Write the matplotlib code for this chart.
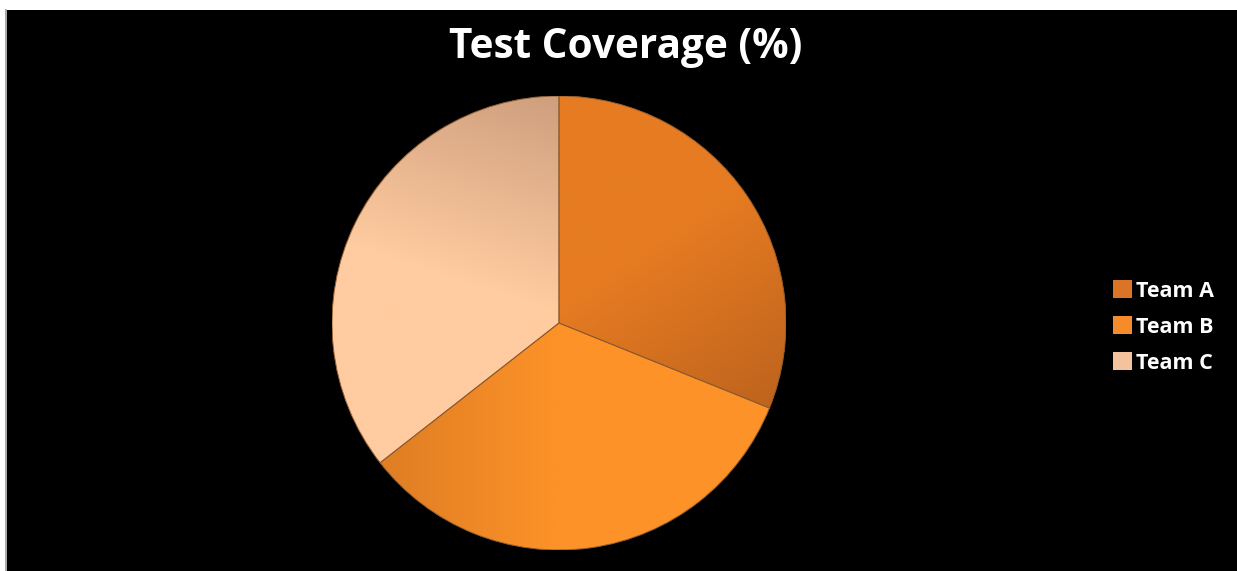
import numpy as np
import matplotlib
matplotlib.use("Agg")
import matplotlib.pyplot as plt
from matplotlib.colors import LinearSegmentedColormap
from matplotlib.patches import Patch, Rectangle, Wedge

teams = ["Team A", "Team B", "Team C"]
coverage = [70, 75, 80]

# base colour for each slice and the legend swatches
base_colors = ["#E57B22", "#FB9228", "#FECBA0"]
legend_colors = ["#DC7428", "#F58B2A", "#F5C29E"]

W, H = 1237, 571
fig = plt.figure(figsize=(W / 100, H / 100), dpi=100, facecolor="white")

# black panel with a thin grey rule down the left side
fig.patches.append(Rectangle((7 / W, 0), 1 - 7 / W, 1 - 10 / H,
                             transform=fig.transFigure, facecolor="black",
                             edgecolor="none", zorder=-1))
fig.lines.append(plt.Line2D([5.5 / W, 5.5 / W], [0, 1 - 10 / H],
                            transform=fig.transFigure, color="#9a9a9a",
                            linewidth=1.2, zorder=-1))

cx, cy, r = 559, 323, 227
ax = fig.add_axes([(cx - r) / W, 1 - (cy + r) / H, 2 * r / W, 2 * r / H])
ax.set_zorder(1)
ax.set_facecolor("none")
ax.axis("off")

wedges, _ = ax.pie(coverage, colors=base_colors, startangle=90,
                   counterclock=False, radius=1,
                   wedgeprops=dict(edgecolor="none"))
ax.set_xlim(-1, 1)
ax.set_ylim(-1, 1)

# soft gradient shading over each slice
n = 400
xs = np.linspace(-1, 1, n)
X, Y = np.meshgrid(xs, xs[::-1])

def shade(wedge, field, c0, c1):
    cmap = LinearSegmentedColormap.from_list("g", [c0, c1])
    im = ax.imshow(np.clip(field, 0, 1), cmap=cmap, vmin=0, vmax=1,
                   extent=(-1, 1, -1, 1), interpolation="bilinear", zorder=2)
    im.set_clip_path(wedge)

# Team A darkens toward the lower right edge
shade(wedges[0], (X * 0.55 - Y * 0.83 + 0.05) / 0.9, "#E67B22", "#BD631D")
# Team B darker on the left, bright orange on the right
shade(wedges[1], (X + 0.85) / 0.85, "#DC7C24", "#FD9228")
# Team C light peach at the bottom, tan toward the top
shade(wedges[2], (Y * 0.95 + X * 0.3 - 0.05) / 0.9, "#FFCBA0", "#CE9F7E")

# thin brown outlines on top of the shading
for w in wedges:
    ax.add_patch(Wedge(w.center, w.r, w.theta1, w.theta2, facecolor="none",
                       edgecolor="#8e5a2e", linewidth=0.7, zorder=3))

fig.text(626 / W, 1 - 58 / H, "Test Coverage (%)", ha="center",
         va="baseline", color="white", fontsize=29.2, fontweight="bold",
         family="Open Sans")

handles = [Patch(facecolor=c, edgecolor="none") for c in legend_colors]
leg = fig.legend(handles, teams, loc="center left",
                 bbox_to_anchor=(1094 / W, 1 - 327 / H), frameon=False,
                 handlelength=0.85, handleheight=0.9, handletextpad=0.2,
                 labelspacing=0.68, prop=dict(family="Open Sans", size=15.5,
                                               weight="bold"))
for t in leg.get_texts():
    t.set_color("white")

fig.savefig("out.png", dpi=100, facecolor="white")
